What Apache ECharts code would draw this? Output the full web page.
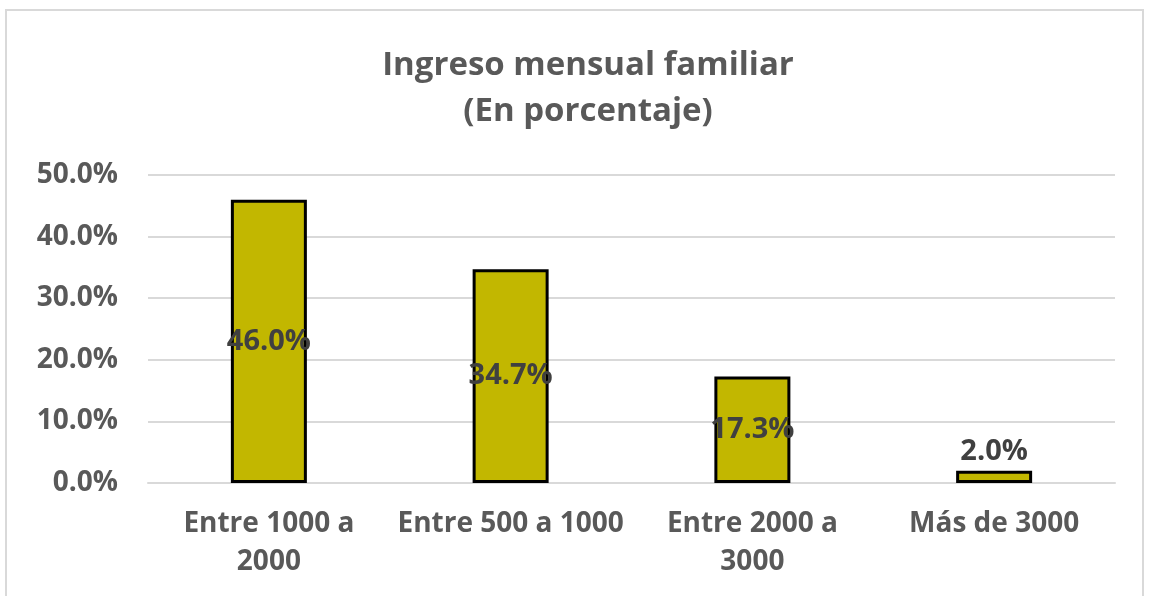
<!DOCTYPE html>
<html>
<head>
<meta charset="utf-8">
<script src="https://cdn.jsdelivr.net/npm/echarts@6/dist/echarts.min.js"></script>
<style>
  html, body { margin: 0; padding: 0; background: #fff; }
  #chart { width: 1149px; height: 596px; }
</style>
</head>
<body>
<div id="chart"></div>
<script>
const categories = ['Entre 1000 a\n2000', 'Entre 500 a 1000', 'Entre 2000 a\n3000', 'Más de 3000']
const values = [46.0, 34.7, 17.3, 2.0]
const yTicks = [0, 10, 20, 30, 40, 50]

const chart = echarts.init(document.getElementById('chart'), null, { renderer: 'canvas' })

const font = '"Open Sans", "Noto Sans", sans-serif'

chart.setOption({
  backgroundColor: '#fff',
  animation: false,
  graphic: [{
    type: 'rect',
    shape: { x: 6, y: 10, width: 1137, height: 600 },
    style: { fill: 'none', stroke: '#d9d9d9', lineWidth: 2 },
    silent: true
  }],
  title: {
    text: 'Ingreso mensual familiar\n(En porcentaje)',
    left: 583,
    textAlign: 'center',
    top: 38,
    textStyle: {
      color: '#595959',
      fontSize: 33,
      fontWeight: 'bold',
      fontFamily: font,
      lineHeight: 46
    }
  },
  grid: { left: 148, right: 34, top: 175, bottom: 113 },
  xAxis: {
    type: 'category',
    data: categories,
    axisLine: { lineStyle: { color: '#d9d9d9', width: 2 } },
    axisTick: { show: false },
    axisLabel: {
      interval: 0,
      hideOverlap: false,
      color: '#595959',
      fontSize: 28,
      fontWeight: 'bold',
      fontFamily: font,
      lineHeight: 38,
      margin: 22
    }
  },
  yAxis: {
    type: 'value',
    min: yTicks[0],
    max: yTicks[yTicks.length - 1],
    interval: 10,
    axisLine: { show: false },
    axisTick: { show: false },
    splitLine: { lineStyle: { color: '#d9d9d9', width: 2 } },
    axisLabel: {
      color: '#595959',
      fontSize: 28,
      fontWeight: 'bold',
      fontFamily: font,
      margin: 30,
      formatter: v => v.toFixed(1) + '%'
    }
  },
  series: [{
    type: 'bar',
    data: values.map((v, i) => ({
      value: v,
      label: { position: i === values.length - 1 ? 'top' : 'inside' }
    })),
    barWidth: 76,
    itemStyle: { color: '#c2b700', borderColor: '#000', borderWidth: 3 },
    label: {
      show: true,
      color: '#404040',
      fontSize: 29,
      fontWeight: 'bold',
      fontFamily: font,
      distance: 4,
      formatter: p => p.value.toFixed(1) + '%'
    }
  }]
})
</script>
</body>
</html>
